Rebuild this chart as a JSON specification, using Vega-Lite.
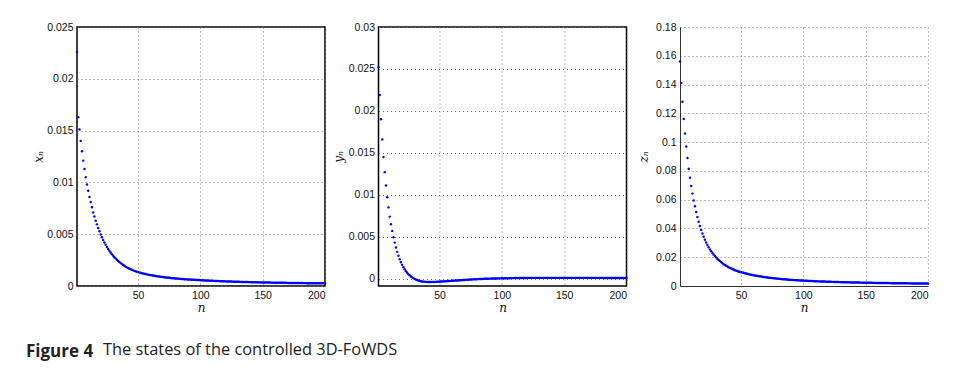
{
"$schema": "https://vega.github.io/schema/vega-lite/v6.json",
"background": "white",
"padding": {"left": 25, "top": 21, "right": 20, "bottom": 10},
"title": {"text": "The states of the controlled 3D-FoWDS", "orient": "bottom", "anchor": "start", "frame": "group", "font": "Open Sans", "fontSize": 16.4, "fontWeight": "normal", "color": "#231f20", "dx": 26, "dy": -19, "offset": 0},
"spacing": 53.5,
"bounds": "flush",
"config": {
"view": {"stroke": "#000", "strokeWidth": 1.5},
"axis": {"labelFont": "Liberation Sans", "labelFontSize": 10.5, "labelColor": "#111", "titleFont": "DejaVu Serif", "titleFontStyle": "italic", "titleFontWeight": "normal", "titleFontSize": 12, "titleColor": "#111", "grid": true, "gridColor": "#777", "gridDash": [1, 3], "gridWidth": 1, "domain": false, "ticks": false, "tickSize": 0, "labelPadding": 4},
"axisY": {"labelPadding": 4}
},
"data": {"values": [
{"n":1,"x":0.0226,"y":0.0252,"z":0.156},
{"n":2,"x":0.0163,"y":0.0219,"z":0.141},
{"n":3,"x":0.0151,"y":0.0190,"z":0.128},
{"n":4,"x":0.0140,"y":0.0166,"z":0.116},
{"n":5,"x":0.0130,"y":0.0145,"z":0.106},
{"n":6,"x":0.0121,"y":0.0127,"z":0.097},
{"n":7,"x":0.0113,"y":0.0111,"z":0.089},
{"n":8,"x":0.0105,"y":0.0097,"z":0.0815},
{"n":9,"x":0.0098,"y":0.0085,"z":0.0753},
{"n":10,"x":0.0092,"y":0.0074,"z":0.0695},
{"n":11,"x":0.0086,"y":0.0065,"z":0.0642},
{"n":12,"x":0.0081,"y":0.0057,"z":0.0595},
{"n":13,"x":0.0076,"y":0.00495,"z":0.0554},
{"n":14,"x":0.0071,"y":0.00430,"z":0.0514},
{"n":15,"x":0.0067,"y":0.00372,"z":0.0480},
{"n":16,"x":0.0063,"y":0.00320,"z":0.0447},
{"n":17,"x":0.00595,"y":0.00274,"z":0.0417},
{"n":18,"x":0.00560,"y":0.00233,"z":0.0390},
{"n":19,"x":0.00528,"y":0.00197,"z":0.0365},
{"n":20,"x":0.00498,"y":0.00165,"z":0.0342},
{"n":21,"x":0.00470,"y":0.00137,"z":0.0321},
{"n":22,"x":0.00444,"y":0.00112,"z":0.0302},
{"n":23,"x":0.00420,"y":0.00090,"z":0.0285},
{"n":24,"x":0.00398,"y":0.00071,"z":0.0269},
{"n":25,"x":0.00377,"y":0.00054,"z":0.0254},
{"n":26,"x":0.00358,"y":0.00040,"z":0.0241},
{"n":27,"x":0.00340,"y":0.00027,"z":0.0229},
{"n":28,"x":0.00323,"y":0.00016,"z":0.0218},
{"n":29,"x":0.00307,"y":0.00007,"z":0.0208},
{"n":30,"x":0.00292,"y":-0.00002,"z":0.0198},
{"n":31,"x":0.00278,"y":-0.00010,"z":0.0189},
{"n":32,"x":0.00265,"y":-0.00016,"z":0.0181},
{"n":33,"x":0.00253,"y":-0.00021,"z":0.0173},
{"n":34,"x":0.00242,"y":-0.00026,"z":0.0166},
{"n":35,"x":0.00231,"y":-0.00030,"z":0.0159},
{"n":36,"x":0.00221,"y":-0.00033,"z":0.0152},
{"n":37,"x":0.00212,"y":-0.00035,"z":0.0146},
{"n":38,"x":0.00203,"y":-0.00037,"z":0.0141},
{"n":39,"x":0.00195,"y":-0.00038,"z":0.0136},
{"n":40,"x":0.00187,"y":-0.00039,"z":0.0131},
{"n":41,"x":0.00180,"y":-0.00040,"z":0.0126},
{"n":42,"x":0.00173,"y":-0.00040,"z":0.0122},
{"n":43,"x":0.00167,"y":-0.00040,"z":0.0118},
{"n":44,"x":0.00161,"y":-0.00040,"z":0.0114},
{"n":45,"x":0.00156,"y":-0.00039,"z":0.0110},
{"n":46,"x":0.00151,"y":-0.00039,"z":0.0107},
{"n":47,"x":0.00146,"y":-0.00038,"z":0.0104},
{"n":48,"x":0.00142,"y":-0.00037,"z":0.0101},
{"n":49,"x":0.00138,"y":-0.00036,"z":0.0098},
{"n":50,"x":0.00134,"y":-0.00035,"z":0.0096},
{"n":51,"x":0.00130,"y":-0.00034,"z":0.00939},
{"n":52,"x":0.00127,"y":-0.00033,"z":0.00915},
{"n":53,"x":0.00124,"y":-0.00032,"z":0.00891},
{"n":54,"x":0.00121,"y":-0.00031,"z":0.00866},
{"n":55,"x":0.00118,"y":-0.00030,"z":0.00848},
{"n":56,"x":0.00115,"y":-0.00029,"z":0.00824},
{"n":57,"x":0.00112,"y":-0.00028,"z":0.00805},
{"n":58,"x":0.00110,"y":-0.00027,"z":0.00787},
{"n":59,"x":0.00107,"y":-0.00026,"z":0.00769},
{"n":60,"x":0.00105,"y":-0.00025,"z":0.00750},
{"n":61,"x":0.00103,"y":-0.00024,"z":0.00732},
{"n":62,"x":0.00101,"y":-0.00023,"z":0.00714},
{"n":63,"x":0.00099,"y":-0.00022,"z":0.00702},
{"n":64,"x":0.00097,"y":-0.00021,"z":0.00683},
{"n":65,"x":0.00095,"y":-0.00020,"z":0.00671},
{"n":66,"x":0.00093,"y":-0.00019,"z":0.00659},
{"n":67,"x":0.00091,"y":-0.00018,"z":0.00641},
{"n":68,"x":0.00089,"y":-0.00017,"z":0.00628},
{"n":69,"x":0.00088,"y":-0.00016,"z":0.00616},
{"n":70,"x":0.00086,"y":-0.00015,"z":0.00604},
{"n":71,"x":0.00085,"y":-0.00014,"z":0.00592},
{"n":72,"x":0.00083,"y":-0.00013,"z":0.00580},
{"n":73,"x":0.00082,"y":-0.00012,"z":0.00567},
{"n":74,"x":0.00080,"y":-0.00011,"z":0.00561},
{"n":75,"x":0.00079,"y":-0.00010,"z":0.00549},
{"n":76,"x":0.00078,"y":-0.00009,"z":0.00537},
{"n":77,"x":0.00076,"y":-0.00008,"z":0.00531},
{"n":78,"x":0.00075,"y":-0.00007,"z":0.00519},
{"n":79,"x":0.00074,"y":-0.00006,"z":0.00512},
{"n":80,"x":0.00073,"y":-0.00006,"z":0.00500},
{"n":81,"x":0.00072,"y":-0.00005,"z":0.00494},
{"n":82,"x":0.00071,"y":-0.00004,"z":0.00488},
{"n":83,"x":0.00070,"y":-0.00003,"z":0.00476},
{"n":84,"x":0.00069,"y":-0.00003,"z":0.00470},
{"n":85,"x":0.00068,"y":-0.00002,"z":0.00464},
{"n":86,"x":0.00067,"y":-0.00001,"z":0.00458},
{"n":87,"x":0.00066,"y":-0.00001,"z":0.00451},
{"n":88,"x":0.00065,"y":0.00000,"z":0.00439},
{"n":89,"x":0.00064,"y":0.00000,"z":0.00433},
{"n":90,"x":0.00063,"y":0.00001,"z":0.00427},
{"n":91,"x":0.00063,"y":0.00001,"z":0.00421},
{"n":92,"x":0.00062,"y":0.00002,"z":0.00415},
{"n":93,"x":0.00061,"y":0.00002,"z":0.00409},
{"n":94,"x":0.00060,"y":0.00003,"z":0.00403},
{"n":95,"x":0.00060,"y":0.00003,"z":0.00397},
{"n":96,"x":0.00059,"y":0.00003,"z":0.00394},
{"n":97,"x":0.00058,"y":0.00004,"z":0.00390},
{"n":98,"x":0.00058,"y":0.00004,"z":0.00384},
{"n":99,"x":0.00057,"y":0.00004,"z":0.00378},
{"n":100,"x":0.00056,"y":0.00005,"z":0.00372},
{"n":101,"x":0.000555,"y":0.00005,"z":0.00368},
{"n":102,"x":0.000549,"y":0.00005,"z":0.00364},
{"n":103,"x":0.000542,"y":0.00006,"z":0.00359},
{"n":104,"x":0.000535,"y":0.00006,"z":0.00354},
{"n":105,"x":0.000529,"y":0.00006,"z":0.00350},
{"n":106,"x":0.000523,"y":0.00006,"z":0.00346},
{"n":107,"x":0.000517,"y":0.00007,"z":0.00342},
{"n":108,"x":0.000511,"y":0.00007,"z":0.00338},
{"n":109,"x":0.000505,"y":0.00007,"z":0.00334},
{"n":110,"x":0.000499,"y":0.00007,"z":0.00331},
{"n":111,"x":0.000493,"y":0.00008,"z":0.00327},
{"n":112,"x":0.000488,"y":0.00008,"z":0.00323},
{"n":113,"x":0.000482,"y":0.00008,"z":0.00320},
{"n":114,"x":0.000477,"y":0.00008,"z":0.00316},
{"n":115,"x":0.000472,"y":0.00009,"z":0.00313},
{"n":116,"x":0.000467,"y":0.00009,"z":0.00309},
{"n":117,"x":0.000462,"y":0.00009,"z":0.00306},
{"n":118,"x":0.000457,"y":0.00009,"z":0.00303},
{"n":119,"x":0.000452,"y":0.00009,"z":0.00300},
{"n":120,"x":0.000447,"y":0.00009,"z":0.00296},
{"n":121,"x":0.000443,"y":0.00010,"z":0.00293},
{"n":122,"x":0.000438,"y":0.00010,"z":0.00291},
{"n":123,"x":0.000434,"y":0.00010,"z":0.00288},
{"n":124,"x":0.000430,"y":0.00010,"z":0.00285},
{"n":125,"x":0.000426,"y":0.00010,"z":0.00282},
{"n":126,"x":0.000422,"y":0.00010,"z":0.00279},
{"n":127,"x":0.000418,"y":0.00010,"z":0.00277},
{"n":128,"x":0.000414,"y":0.00010,"z":0.00275},
{"n":129,"x":0.000410,"y":0.00010,"z":0.00271},
{"n":130,"x":0.000406,"y":0.00010,"z":0.00269},
{"n":131,"x":0.000402,"y":0.00010,"z":0.00267},
{"n":132,"x":0.000399,"y":0.00010,"z":0.00264},
{"n":133,"x":0.000395,"y":0.00010,"z":0.00262},
{"n":134,"x":0.000392,"y":0.00010,"z":0.00260},
{"n":135,"x":0.000388,"y":0.00010,"z":0.00257},
{"n":136,"x":0.000385,"y":0.00010,"z":0.00255},
{"n":137,"x":0.000382,"y":0.00010,"z":0.00253},
{"n":138,"x":0.000378,"y":0.00010,"z":0.00251},
{"n":139,"x":0.000375,"y":0.00010,"z":0.00249},
{"n":140,"x":0.000372,"y":0.00010,"z":0.00246},
{"n":141,"x":0.000369,"y":0.00010,"z":0.00245},
{"n":142,"x":0.000366,"y":0.00010,"z":0.00243},
{"n":143,"x":0.000363,"y":0.00010,"z":0.00240},
{"n":144,"x":0.000360,"y":0.00010,"z":0.00239},
{"n":145,"x":0.000357,"y":0.00010,"z":0.00237},
{"n":146,"x":0.000354,"y":0.00010,"z":0.00235},
{"n":147,"x":0.000351,"y":0.00010,"z":0.00233},
{"n":148,"x":0.000349,"y":0.00010,"z":0.00231},
{"n":149,"x":0.000346,"y":0.00010,"z":0.00229},
{"n":150,"x":0.000343,"y":0.00010,"z":0.00228},
{"n":151,"x":0.000341,"y":0.00010,"z":0.00226},
{"n":152,"x":0.000338,"y":0.00010,"z":0.00224},
{"n":153,"x":0.000336,"y":0.00010,"z":0.00223},
{"n":154,"x":0.000334,"y":0.00010,"z":0.00221},
{"n":155,"x":0.000331,"y":0.00010,"z":0.00220},
{"n":156,"x":0.000329,"y":0.00010,"z":0.00218},
{"n":157,"x":0.000327,"y":0.00010,"z":0.00217},
{"n":158,"x":0.000325,"y":0.00010,"z":0.00215},
{"n":159,"x":0.000322,"y":0.00010,"z":0.00214},
{"n":160,"x":0.000320,"y":0.00010,"z":0.00212},
{"n":161,"x":0.000318,"y":0.00010,"z":0.00211},
{"n":162,"x":0.000316,"y":0.00010,"z":0.00209},
{"n":163,"x":0.000314,"y":0.00010,"z":0.00208},
{"n":164,"x":0.000312,"y":0.00010,"z":0.00207},
{"n":165,"x":0.000310,"y":0.00010,"z":0.00206},
{"n":166,"x":0.000308,"y":0.00010,"z":0.00204},
{"n":167,"x":0.000306,"y":0.00010,"z":0.00203},
{"n":168,"x":0.000305,"y":0.00010,"z":0.00202},
{"n":169,"x":0.000303,"y":0.00010,"z":0.00201},
{"n":170,"x":0.000301,"y":0.00010,"z":0.00199},
{"n":171,"x":0.000299,"y":0.00010,"z":0.00198},
{"n":172,"x":0.000297,"y":0.00010,"z":0.00197},
{"n":173,"x":0.000296,"y":0.00010,"z":0.00196},
{"n":174,"x":0.000294,"y":0.00010,"z":0.00195},
{"n":175,"x":0.000292,"y":0.00010,"z":0.00193},
{"n":176,"x":0.000290,"y":0.00010,"z":0.00192},
{"n":177,"x":0.000289,"y":0.00010,"z":0.00192},
{"n":178,"x":0.000287,"y":0.00010,"z":0.00190},
{"n":179,"x":0.000286,"y":0.00010,"z":0.00189},
{"n":180,"x":0.000284,"y":0.00010,"z":0.00188},
{"n":181,"x":0.000282,"y":0.00009,"z":0.00187},
{"n":182,"x":0.000281,"y":0.00009,"z":0.00186},
{"n":183,"x":0.000279,"y":0.00009,"z":0.00185},
{"n":184,"x":0.000278,"y":0.00009,"z":0.00184},
{"n":185,"x":0.000276,"y":0.00009,"z":0.00183},
{"n":186,"x":0.000275,"y":0.00009,"z":0.00182},
{"n":187,"x":0.000274,"y":0.00009,"z":0.00181},
{"n":188,"x":0.000272,"y":0.00009,"z":0.00180},
{"n":189,"x":0.000271,"y":0.00009,"z":0.00179},
{"n":190,"x":0.000269,"y":0.00009,"z":0.00178},
{"n":191,"x":0.000268,"y":0.00009,"z":0.00178},
{"n":192,"x":0.000267,"y":0.00009,"z":0.00176},
{"n":193,"x":0.000265,"y":0.00009,"z":0.00176},
{"n":194,"x":0.000264,"y":0.00009,"z":0.00174},
{"n":195,"x":0.000263,"y":0.00009,"z":0.00174},
{"n":196,"x":0.000261,"y":0.00009,"z":0.00173},
{"n":197,"x":0.000260,"y":0.00009,"z":0.00172},
{"n":198,"x":0.000259,"y":0.00009,"z":0.00171},
{"n":199,"x":0.000258,"y":0.00009,"z":0.00171},
{"n":200,"x":0.000256,"y":0.00009,"z":0.00170}
]},
"hconcat": [
{
"width": 248, "height": 259,
"title": {"text": "Figure 4", "orient": "bottom", "anchor": "start", "frame": "group", "font": "Open Sans", "fontSize": 17, "fontWeight": "bold", "color": "#231f20", "dx": -51, "offset": 31},
"mark": {"type": "point", "shape": "circle", "filled": true, "size": 6, "color": "#0000ff", "opacity": 1},
"encoding": {
"x": {"field": "n", "type": "quantitative", "scale": {"domain": [1, 200], "nice": false, "zero": false}, "axis": {"values": [50, 100, 150, 200], "title": "n", "titleY": 25, "titleBaseline": "alphabetic"}},
"y": {"field": "x", "type": "quantitative", "scale": {"domain": [0, 0.025], "nice": false}, "axis": {"values": [0, 0.005, 0.01, 0.015, 0.02, 0.025], "format": "~g", "title": "xₙ", "titleX": -32}}
}
},
{
"width": 248, "height": 259,
"mark": {"type": "point", "shape": "circle", "filled": true, "size": 6, "color": "#0000ff", "opacity": 1},
"encoding": {
"x": {"field": "n", "type": "quantitative", "scale": {"domain": [1, 200], "nice": false, "zero": false}, "axis": {"values": [50, 100, 150, 200], "title": "n", "titleY": 25, "titleBaseline": "alphabetic"}},
"y": {"field": "y", "type": "quantitative", "scale": {"domain": [-0.00087, 0.03], "nice": false, "zero": false}, "axis": {"values": [0, 0.005, 0.01, 0.015, 0.02, 0.025, 0.03], "format": "~g", "title": "yₙ", "titleX": -33}}
}
},
{
"width": 248, "height": 259,
"view": {"stroke": null},
"mark": {"type": "point", "shape": "circle", "filled": true, "size": 6, "color": "#0000ff", "opacity": 1},
"encoding": {
"x": {"field": "n", "type": "quantitative", "scale": {"domain": [1, 200], "nice": false, "zero": false}, "axis": {"values": [50, 100, 150, 200], "title": "n", "titleY": 25, "titleBaseline": "alphabetic", "domain": true, "domainColor": "#333"}},
"y": {"field": "z", "type": "quantitative", "scale": {"domain": [0, 0.18], "nice": false}, "axis": {"values": [0, 0.02, 0.04, 0.06, 0.08, 0.1, 0.12, 0.14, 0.16, 0.18], "format": "~g", "title": "zₙ", "titleX": -30, "domain": true, "domainColor": "#333"}}
}
}
]
}
